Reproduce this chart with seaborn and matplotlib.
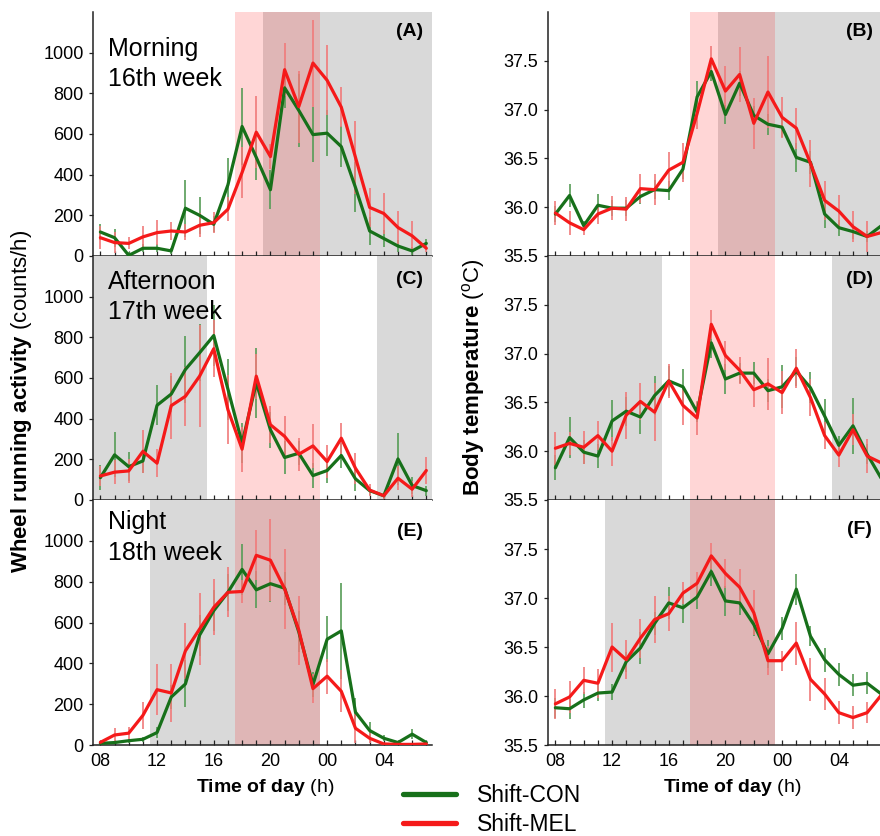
import numpy as np
import pandas as pd
import matplotlib
matplotlib.use("Agg")
import matplotlib.pyplot as plt
from matplotlib.lines import Line2D
import seaborn as sns

# ---------------- data ----------------
hours = list(range(8, 32))
xtick_hours = [8, 12, 16, 20, 24, 28]
xtick_labels = ["08", "12", "16", "20", "00", "04"]
groups = ["Shift-CON", "Shift-MEL"]

# (A) wheel running, morning 16th week
A_con = [118, 90, 3, 38, 38, 25, 235, 200, 156, 350, 637, 485, 326, 827, 716, 597, 604, 538, 337, 123, 86, 49, 25, 62]
A_mel = [90, 66, 62, 94, 115, 123, 118, 151, 164, 230, 411, 609, 489, 916, 735, 949, 864, 732, 485, 239, 209, 140, 99, 38]
A_con_err = [40, 45, 15, 20, 20, 15, 140, 90, 40, 130, 190, 110, 95, 100, 180, 136, 113, 100, 123, 70, 40, 30, 20, 20]
A_mel_err = [58, 50, 30, 53, 60, 45, 40, 60, 50, 60, 127, 177, 60, 130, 177, 214, 173, 100, 181, 95, 100, 82, 75, 16]

# (B) body temperature, morning 16th week
B_con = [35.93, 36.12, 35.81, 36.02, 35.99, 35.99, 36.11, 36.18, 36.17, 36.39, 37.13, 37.39, 36.95, 37.27, 36.94, 36.85, 36.82, 36.51, 36.46, 35.93, 35.79, 35.75, 35.70, 35.81]
B_mel = [35.94, 35.84, 35.77, 35.93, 35.99, 35.98, 36.19, 36.18, 36.38, 36.46, 36.96, 37.52, 37.19, 37.36, 36.86, 37.18, 36.92, 36.81, 36.45, 36.07, 35.96, 35.80, 35.70, 35.74]
B_con_err = [0.08, 0.12, 0.05, 0.12, 0.08, 0.08, 0.08, 0.10, 0.10, 0.10, 0.16, 0.10, 0.10, 0.13, 0.10, 0.11, 0.10, 0.15, 0.12, 0.14, 0.08, 0.08, 0.06, 0.08]
B_mel_err = [0.12, 0.12, 0.05, 0.10, 0.12, 0.12, 0.15, 0.16, 0.19, 0.20, 0.16, 0.13, 0.26, 0.28, 0.26, 0.37, 0.21, 0.21, 0.24, 0.20, 0.17, 0.16, 0.16, 0.10]

# (C) wheel running, afternoon 17th week
C_con = [110, 222, 164, 192, 466, 521, 642, 724, 809, 545, 280, 576, 345, 209, 230, 120, 145, 219, 104, 46, 21, 202, 71, 46]
C_mel = [118, 137, 143, 239, 181, 464, 510, 609, 744, 444, 250, 609, 370, 313, 225, 266, 189, 304, 156, 49, 21, 107, 53, 145]
C_con_err = [60, 111, 72, 60, 99, 90, 164, 140, 150, 150, 100, 173, 90, 82, 60, 60, 60, 60, 60, 20, 15, 127, 40, 25]
C_mel_err = [50, 60, 60, 107, 70, 162, 144, 251, 140, 170, 111, 110, 90, 100, 82, 107, 82, 77, 77, 30, 15, 60, 40, 66]

# (D) body temperature, afternoon 17th week
D_con = [35.83, 36.14, 35.99, 35.95, 36.31, 36.41, 36.35, 36.57, 36.72, 36.66, 36.40, 37.11, 36.74, 36.80, 36.80, 36.62, 36.66, 36.82, 36.65, 36.36, 36.06, 36.26, 35.97, 35.72]
D_mel = [36.03, 36.08, 36.04, 36.16, 36.00, 36.37, 36.51, 36.40, 36.72, 36.47, 36.34, 37.30, 36.98, 36.83, 36.63, 36.69, 36.60, 36.85, 36.55, 36.16, 35.96, 36.22, 35.95, 35.88]
D_con_err = [0.13, 0.21, 0.12, 0.12, 0.21, 0.15, 0.17, 0.20, 0.15, 0.18, 0.10, 0.15, 0.15, 0.10, 0.11, 0.12, 0.22, 0.15, 0.16, 0.17, 0.10, 0.29, 0.10, 0.12]
D_mel_err = [0.17, 0.12, 0.17, 0.15, 0.15, 0.24, 0.19, 0.30, 0.17, 0.20, 0.17, 0.15, 0.15, 0.14, 0.18, 0.27, 0.22, 0.20, 0.19, 0.14, 0.12, 0.16, 0.17, 0.12]

# (E) wheel running, night 18th week
E_con = [8, 12, 21, 28, 61, 235, 299, 538, 658, 748, 860, 760, 790, 768, 554, 296, 518, 559, 161, 71, 33, 12, 53, 12]
E_mel = [13, 49, 58, 145, 271, 255, 461, 568, 674, 748, 752, 929, 905, 765, 563, 276, 337, 263, 82, 33, 5, 3, 3, 5]
E_con_err = [5, 8, 10, 12, 25, 60, 115, 100, 100, 90, 126, 90, 90, 80, 100, 60, 113, 234, 70, 40, 15, 8, 25, 8]
E_mel_err = [8, 36, 30, 66, 125, 141, 137, 176, 137, 123, 55, 123, 200, 195, 169, 72, 85, 102, 70, 25, 5, 3, 3, 5]

# (F) body temperature, night 18th week
F_con = [35.88, 35.87, 35.96, 36.03, 36.04, 36.35, 36.49, 36.74, 36.95, 36.90, 37.01, 37.27, 36.97, 36.95, 36.73, 36.43, 36.69, 37.09, 36.61, 36.37, 36.22, 36.11, 36.13, 36.02]
F_mel = [35.92, 35.99, 36.16, 36.13, 36.50, 36.37, 36.59, 36.78, 36.84, 37.05, 37.15, 37.43, 37.25, 37.11, 36.85, 36.36, 36.36, 36.54, 36.17, 36.02, 35.83, 35.78, 35.83, 36.01]
F_con_err = [0.10, 0.10, 0.08, 0.08, 0.08, 0.10, 0.16, 0.12, 0.16, 0.15, 0.12, 0.15, 0.15, 0.12, 0.12, 0.14, 0.12, 0.16, 0.10, 0.12, 0.12, 0.11, 0.11, 0.10]
F_mel_err = [0.15, 0.16, 0.14, 0.15, 0.25, 0.20, 0.20, 0.24, 0.18, 0.11, 0.12, 0.13, 0.15, 0.19, 0.23, 0.15, 0.10, 0.22, 0.22, 0.16, 0.12, 0.12, 0.11, 0.10]

panel_letters = ["(A)", "(B)", "(C)", "(D)", "(E)", "(F)"]
row_titles = [("Morning", "16th week"), ("Afternoon", "17th week"), ("Night", "18th week")]
# shading (hours): dark phase grey, melatonin / shift window pink
gray_spans = [[(19.5, 32.0)], [(7.0, 15.5), (27.5, 32.0)], [(11.5, 23.5)]]
pink_spans = [[(17.5, 23.5)], [(17.5, 23.5)], [(17.5, 23.5)]]

panels = [
    (A_con, A_mel, A_con_err, A_mel_err),
    (B_con, B_mel, B_con_err, B_mel_err),
    (C_con, C_mel, C_con_err, C_mel_err),
    (D_con, D_mel, D_con_err, D_mel_err),
    (E_con, E_mel, E_con_err, E_mel_err),
    (F_con, F_mel, F_con_err, F_mel_err),
]

# ---------------- style ----------------
sns.set_style("ticks")
plt.rcParams['font.family'] = ['Liberation Sans', 'DejaVu Sans']
plt.rcParams['mathtext.fontset'] = 'custom'
plt.rcParams['mathtext.rm'] = 'Liberation Sans'
plt.rcParams['mathtext.bf'] = 'Liberation Sans:bold'
plt.rcParams['mathtext.it'] = 'Liberation Sans:italic'
plt.rcParams['text.color'] = 'black'
plt.rcParams['axes.labelcolor'] = 'black'
plt.rcParams['xtick.color'] = 'black'
plt.rcParams['ytick.color'] = 'black'

GREEN = "#17701a"
RED = "#f51a1a"
palette = {"Shift-CON": GREEN, "Shift-MEL": RED}
err_col = {"Shift-CON": "#569c56", "Shift-MEL": "#f07a7a"}

W, H = 880, 836
fig = plt.figure(figsize=(W / 100, H / 100), dpi=100)

def fx(px):
    return px / W

def fy(py):
    return 1 - py / H

col_x0 = [93.3, 548.3]
axw = 338.7
row_top = [12, 256, 500]
row_bot = [256, 500, 745]

for r in range(3):
    for c in range(2):
        k = r * 2 + c
        con, mel, con_e, mel_e = panels[k]
        ax = fig.add_axes([fx(col_x0[c]), fy(row_bot[r]), axw / W, (row_bot[r] - row_top[r]) / H])
        for a, b in gray_spans[r]:
            ax.axvspan(a, b, color="#d9d9d9", lw=0, zorder=0)
        for a, b in pink_spans[r]:
            ax.axvspan(a, b, color=(1, 0, 0), alpha=0.16, lw=0, zorder=0.5)

        df = pd.DataFrame({
            "hour": hours * 2,
            "value": con + mel,
            "err": con_e + mel_e,
            "group": [groups[0]] * len(hours) + [groups[1]] * len(hours),
        })
        for g in groups:
            sub = df[df["group"] == g]
            ax.errorbar(sub["hour"], sub["value"], yerr=sub["err"], fmt="none",
                        ecolor=err_col[g], elinewidth=1.2, capsize=0, zorder=2)
        sns.lineplot(data=df, x="hour", y="value", hue="group", hue_order=groups,
                     palette=palette, linewidth=2.3, legend=False, ax=ax,
                     errorbar=None, zorder=3)

        ax.set_xlim(7.5, 31.4)
        if c == 0:
            ax.set_ylim(0, 1200)
            ax.set_yticks([0, 200, 400, 600, 800, 1000])
            ax.set_yticklabels(["0", "200", "400", "600", "800", "1000"])
        else:
            ax.set_ylim(35.5, 38.0)
            ax.set_yticks([35.5, 36.0, 36.5, 37.0, 37.5])
            ax.set_yticklabels(["35.5", "36.0", "36.5", "37.0", "37.5"])
        ax.set_xticks(xtick_hours)
        ax.set_xticks(hours, minor=True)
        if r == 2:
            ax.set_xticklabels(xtick_labels)
        else:
            ax.set_xticklabels([])
        ax.set_xlabel("")
        ax.set_ylabel("")
        sns.despine(ax=ax)
        for s in ["left", "bottom"]:
            ax.spines[s].set_color("#222222")
            ax.spines[s].set_linewidth(1.1)
        ax.tick_params(axis="x", which="both", direction="in", length=3.5, width=0.9,
                       color="#222222", labelcolor="black", labelsize=13, pad=6)
        ax.tick_params(axis="y", which="both", direction="out", length=3, width=0.9,
                       color="#222222", labelcolor="black", labelsize=13, pad=4)

# panel letters
letter_pos = [(422.7, 31.7), (872.7, 31.0), (422.7, 280), (872.7, 280), (422.7, 531.7), (871.7, 530)]
for lab, (px, py) in zip(panel_letters, letter_pos):
    fig.text(fx(px), fy(py), lab, ha="right", va="center", fontsize=14, fontweight="bold")

# row titles
title_base = [(56, 86), (289.3, 319), (529.3, 560)]
for (l1, l2), (b1, b2) in zip(row_titles, title_base):
    fig.text(fx(108.3), fy(b1), l1, ha="left", va="baseline", fontsize=18)
    fig.text(fx(108.3), fy(b2), l2, ha="left", va="baseline", fontsize=18)

# axis labels
fig.text(fx(22), fy(401), r"$\mathbf{Wheel\ running\ activity}$ (counts/h)",
         rotation=90, ha="center", va="center", fontsize=16)
fig.text(fx(473), fy(377), r"$\mathbf{Body\ temperature}$ ($^{\rm o}$C)",
         rotation=90, ha="center", va="center", fontsize=16)
fig.text(fx(265), fy(787), r"$\mathbf{Time\ of\ day}$ (h)", ha="center", va="center", fontsize=14)
fig.text(fx(732), fy(787), r"$\mathbf{Time\ of\ day}$ (h)", ha="center", va="center", fontsize=14)

# legend
handles = [Line2D([], [], color=GREEN, lw=3.8), Line2D([], [], color=RED, lw=3.8)]
fig.legend(handles, groups, loc="upper left", bbox_to_anchor=(fx(403), fy(784)),
           frameon=False, fontsize=16.5, handlelength=2.3, handletextpad=0.95,
           labelspacing=0.25, borderpad=0, borderaxespad=0)

fig.savefig("out.png", dpi=100)
